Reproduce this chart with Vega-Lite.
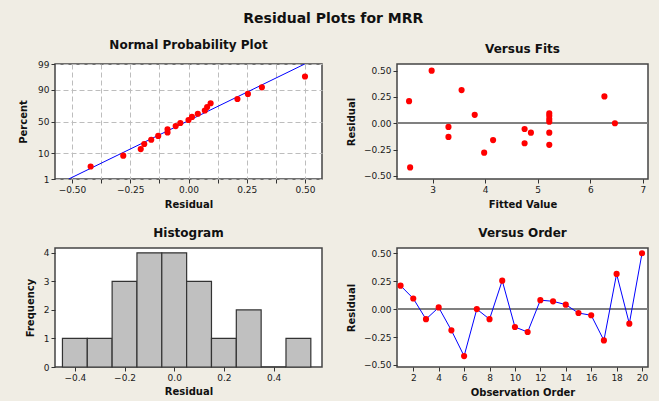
{
  "$schema": "https://vega.github.io/schema/vega-lite/v6.json",
  "background": "#F0EDE4",
  "padding": {"left": 17, "top": 12, "right": 9, "bottom": 4},
  "title": {"text": "Residual Plots for MRR", "fontSize": 14, "font": "DejaVu Sans", "fontWeight": "bold", "anchor": "middle", "offset": 12, "color": "#111"},
  "datasets": {
    "obs": [
      {"obs": 1, "fit": 2.55, "resid": 0.21},
      {"obs": 2, "fit": 5.22, "resid": 0.095},
      {"obs": 3, "fit": 4.87, "resid": -0.09},
      {"obs": 4, "fit": 5.22, "resid": 0.015},
      {"obs": 5, "fit": 4.75, "resid": -0.19},
      {"obs": 6, "fit": 2.57, "resid": -0.42},
      {"obs": 7, "fit": 6.47, "resid": 0.0},
      {"obs": 8, "fit": 5.22, "resid": -0.09},
      {"obs": 9, "fit": 6.27, "resid": 0.255},
      {"obs": 10, "fit": 4.15, "resid": -0.16},
      {"obs": 11, "fit": 5.22, "resid": -0.205},
      {"obs": 12, "fit": 3.8, "resid": 0.08},
      {"obs": 13, "fit": 5.22, "resid": 0.07},
      {"obs": 14, "fit": 5.22, "resid": 0.04},
      {"obs": 15, "fit": 3.3, "resid": -0.035},
      {"obs": 16, "fit": 4.75, "resid": -0.055},
      {"obs": 17, "fit": 3.98, "resid": -0.28},
      {"obs": 18, "fit": 3.55, "resid": 0.315},
      {"obs": 19, "fit": 3.3, "resid": -0.13},
      {"obs": 20, "fit": 2.98, "resid": 0.5}
    ],
    "npp": [
      {"resid": -0.42, "z": -1.82},
      {"resid": -0.28, "z": -1.383},
      {"resid": -0.205, "z": -1.115},
      {"resid": -0.19, "z": -0.91},
      {"resid": -0.16, "z": -0.737},
      {"resid": -0.13, "z": -0.584},
      {"resid": -0.09, "z": -0.445},
      {"resid": -0.09, "z": -0.312},
      {"resid": -0.055, "z": -0.185},
      {"resid": -0.035, "z": -0.0615},
      {"resid": 0.0, "z": 0.0615},
      {"resid": 0.015, "z": 0.185},
      {"resid": 0.04, "z": 0.312},
      {"resid": 0.07, "z": 0.445},
      {"resid": 0.08, "z": 0.584},
      {"resid": 0.095, "z": 0.737},
      {"resid": 0.21, "z": 0.91},
      {"resid": 0.255, "z": 1.115},
      {"resid": 0.315, "z": 1.383},
      {"resid": 0.5, "z": 1.82}
    ],
    "fitline": [
      {"resid": -0.514, "z": -2.326},
      {"resid": 0.499, "z": 2.326}
    ],
    "hist": [
      {"lo": -0.45, "hi": -0.35, "count": 1},
      {"lo": -0.35, "hi": -0.25, "count": 1},
      {"lo": -0.25, "hi": -0.15, "count": 3},
      {"lo": -0.15, "hi": -0.05, "count": 4},
      {"lo": -0.05, "hi": 0.05, "count": 4},
      {"lo": 0.05, "hi": 0.15, "count": 3},
      {"lo": 0.15, "hi": 0.25, "count": 1},
      {"lo": 0.25, "hi": 0.35, "count": 2},
      {"lo": 0.35, "hi": 0.45, "count": 0},
      {"lo": 0.45, "hi": 0.55, "count": 1}
    ]
  },
  "config": {
    "view": {"stroke": "#444", "strokeWidth": 1.5, "fill": "white"},
    "axis": {
      "domain": false, "grid": false, "tickColor": "#333", "tickSize": 4, "tickCount": 50, "labelOverlap": false,
      "labelFont": "DejaVu Sans", "labelFontSize": 9, "labelColor": "#1a1a1a", "labelPadding": 2,
      "titleFont": "DejaVu Sans", "titleFontSize": 10, "titleFontWeight": "bold", "titleColor": "#111"
    },
    "title": {"font": "DejaVu Sans", "fontSize": 12, "fontWeight": "bold", "offset": 8, "color": "#111", "anchor": "middle"}
  },
  "columns": 2,
  "bounds": "flush",
  "spacing": {"row": 69, "column": 75},
  "concat": [
    {
      "title": "Normal Probability Plot",
      "width": 267, "height": 115,
      "layer": [
        {
          "data": {"name": "fitline"},
          "mark": {"type": "line", "color": "#0000FF", "strokeWidth": 1, "clip": true},
          "encoding": {
            "x": {"field": "resid", "type": "quantitative",
              "scale": {"domain": [-0.573, 0.573], "nice": false, "zero": false},
              "axis": {"title": "Residual", "titleY": 25, "titleBaseline": "middle", "tickCount": 50,
                "values": [-0.5, -0.375, -0.25, -0.125, 0, 0.125, 0.25, 0.375, 0.5],
                "labelExpr": "abs(datum.value * 4 - round(datum.value * 4)) < 0.01 ? format(datum.value, '.2f') : ''",
                "grid": true, "gridColor": "#BDBDBD", "gridDash": [5, 3], "gridWidth": 1}},
            "y": {"field": "z", "type": "quantitative",
              "scale": {"domain": [-2.326, 2.326], "nice": false, "zero": false},
              "axis": {"title": "Percent", "titleX": -32, "titleBaseline": "middle", "tickCount": 50,
                "values": [-2.326, -1.2816, 0, 1.2816, 2.326],
                "labelExpr": "datum.value < -2 ? '1' : datum.value < -1 ? '10' : datum.value < 1 ? '50' : datum.value < 2 ? '90' : '99'",
                "grid": true, "gridColor": "#BDBDBD", "gridDash": [5, 3], "gridWidth": 1}}
          }
        },
        {
          "data": {"name": "npp"},
          "mark": {"type": "circle", "color": "#FF0000", "opacity": 1, "size": 38},
          "encoding": {
            "x": {"field": "resid", "type": "quantitative"},
            "y": {"field": "z", "type": "quantitative"}
          }
        }
      ]
    },
    {
      "title": "Versus Fits",
      "width": 251, "height": 115,
      "data": {"name": "obs"},
      "layer": [
        {
          "mark": {"type": "rule", "color": "#808080", "strokeWidth": 1.2},
          "encoding": {"y": {"datum": 0, "type": "quantitative"}}
        },
        {
          "mark": {"type": "circle", "color": "#FF0000", "opacity": 1, "size": 38},
          "encoding": {
            "x": {"field": "fit", "type": "quantitative",
              "scale": {"domain": [2.32, 7.1], "nice": false, "zero": false},
              "axis": {"title": "Fitted Value", "titleY": 25, "titleBaseline": "middle", "tickCount": 50, "values": [3, 4, 5, 6, 7], "format": "d"}},
            "y": {"field": "resid", "type": "quantitative",
              "scale": {"domain": [-0.53, 0.563], "nice": false, "zero": false},
              "axis": {"title": "Residual", "titleX": -46, "titleBaseline": "middle", "tickCount": 50,
                "values": [-0.5, -0.25, 0, 0.25, 0.5], "format": ".2f"}}
          }
        }
      ]
    },
    {
      "title": "Histogram",
      "width": 267, "height": 119,
      "data": {"name": "hist"},
      "mark": {"type": "bar", "fill": "#C0C0C0", "stroke": "#333", "strokeWidth": 1.2},
      "encoding": {
        "x": {"field": "lo", "type": "quantitative",
          "scale": {"domain": [-0.48, 0.595], "nice": false, "zero": false},
          "axis": {"title": "Residual", "titleY": 24, "titleBaseline": "middle", "tickCount": 50,
            "values": [-0.4, -0.2, 0, 0.2, 0.4], "format": ".1f"}},
        "x2": {"field": "hi"},
        "y": {"field": "count", "type": "quantitative",
          "scale": {"domain": [0, 4.17], "nice": false},
          "axis": {"title": "Frequency", "titleX": -25, "titleBaseline": "middle", "tickCount": 50,
            "values": [0, 1, 2, 3, 4], "format": "d"}},
        "y2": {"datum": 0}
      }
    },
    {
      "title": "Versus Order",
      "width": 251, "height": 119,
      "data": {"name": "obs"},
      "layer": [
        {
          "mark": {"type": "rule", "color": "#808080", "strokeWidth": 1.2},
          "encoding": {"y": {"datum": 0, "type": "quantitative"}}
        },
        {
          "mark": {"type": "line", "color": "#0000FF", "strokeWidth": 1},
          "encoding": {
            "x": {"field": "obs", "type": "quantitative",
              "scale": {"domain": [0.72, 20.47], "nice": false, "zero": false},
              "axis": {"title": "Observation Order", "titleY": 25, "titleBaseline": "middle", "tickCount": 50,
                "values": [2, 4, 6, 8, 10, 12, 14, 16, 18, 20], "format": "d"}},
            "y": {"field": "resid", "type": "quantitative",
              "scale": {"domain": [-0.518, 0.547], "nice": false, "zero": false},
              "axis": {"title": "Residual", "titleX": -46, "titleBaseline": "middle", "tickCount": 50,
                "values": [-0.5, -0.25, 0, 0.25, 0.5], "format": ".2f"}}
          }
        },
        {
          "mark": {"type": "circle", "color": "#FF0000", "opacity": 1, "size": 38},
          "encoding": {
            "x": {"field": "obs", "type": "quantitative"},
            "y": {"field": "resid", "type": "quantitative"}
          }
        }
      ]
    }
  ]
}
